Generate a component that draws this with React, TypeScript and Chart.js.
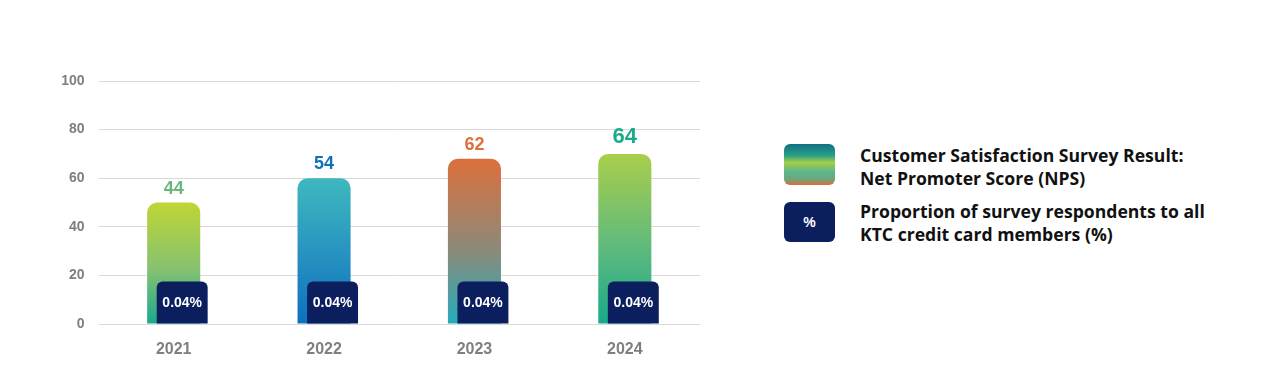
import React, { useEffect, useRef } from "react";
import { Chart, registerables } from "chart.js";

Chart.register(...registerables);

const categories = ["2021", "2022", "2023", "2024"];
const npsBarValues = [50, 60, 68, 70];
const npsLabels = ["44", "54", "62", "64"];
const npsLabelColors = ["#6ab77b", "#0f72b9", "#e0703a", "#1baa8b"];
const npsLabelSizes = [18, 18, 18, 22];
const gradTop = ["#bfd634", "#3eb9be", "#dc6f3b", "#a9ce4b"];
const gradMid = ["#86c271", "#2690c1", "#8c8a7a", "#5fba7d"];
const gradBottom = ["#1aa98d", "#0a72bd", "#25acba", "#18aa89"];
const pctBarValues = [17.5, 17.5, 17.5, 17.5];
const pctLabels = ["0.04%", "0.04%", "0.04%", "0.04%"];
const yTicks = [0, 20, 40, 60, 80, 100];

const NAVY = "#0b1f5e";
const BOX_SHIFT = 8.5;

const shiftPlugin = {
  id: "shiftPct",
  afterDatasetsUpdate(chart: any) {
    const meta = chart.getDatasetMeta(1);
    meta.data.forEach((el: any) => {
      el.x += BOX_SHIFT;
    });
  },
};

const labelPlugin = {
  id: "valueLabels",
  afterDatasetsDraw(chart: any) {
    const ctx = chart.ctx;
    const m0 = chart.getDatasetMeta(0);
    const m1 = chart.getDatasetMeta(1);
    ctx.save();
    m0.data.forEach((el: any, i: number) => {
      const size = npsLabelSizes[i];
      ctx.font = `bold ${size}px "Liberation Sans", Arial, sans-serif`;
      ctx.fillStyle = npsLabelColors[i];
      ctx.textAlign = "center";
      ctx.textBaseline = "alphabetic";
      ctx.fillText(npsLabels[i], el.x, el.y - size * 0.5);
    });
    m1.data.forEach((el: any, i: number) => {
      ctx.font = `bold 14px "Liberation Sans", Arial, sans-serif`;
      ctx.fillStyle = "#ffffff";
      ctx.textAlign = "center";
      ctx.textBaseline = "middle";
      ctx.fillText(pctLabels[i], el.x, (el.y + el.base) / 2 + 1);
    });
    ctx.restore();
  },
};

export default function App() {
  const ref = useRef<HTMLCanvasElement>(null);
  useEffect(() => {
    if (!ref.current) return;
    const chart = new Chart(ref.current, {
      type: "bar",
      data: {
        labels: categories,
        datasets: [
          {
            label: "NPS",
            data: npsBarValues,
            order: 1,
            grouped: false,
            barPercentage: 1,
            categoryPercentage: 0.353,
            borderRadius: { topLeft: 10, topRight: 10, bottomLeft: 0, bottomRight: 0 },
            borderSkipped: false,
            backgroundColor: (c: any) => {
              const ch = c.chart;
              const area = ch.chartArea;
              const i = c.dataIndex;
              if (!area || i === undefined) return gradTop[0];
              const yScale = ch.scales.y;
              const top = yScale.getPixelForValue(npsBarValues[i]);
              const bottom = yScale.getPixelForValue(0);
              const g = ch.ctx.createLinearGradient(0, top, 0, bottom);
              g.addColorStop(0, gradTop[i]);
              g.addColorStop(0.55, gradMid[i]);
              g.addColorStop(1, gradBottom[i]);
              return g;
            },
          } as any,
          {
            label: "%",
            data: pctBarValues,
            order: 0,
            grouped: false,
            barPercentage: 0.96,
            categoryPercentage: 0.353,
            borderRadius: { topLeft: 6, topRight: 6, bottomLeft: 0, bottomRight: 0 },
            borderSkipped: false,
            backgroundColor: NAVY,
          } as any,
        ],
      },
      options: {
        animation: false,
        responsive: false,
        maintainAspectRatio: false,
        layout: { padding: { left: 0, right: 60, top: 81, bottom: 0 } },
        plugins: { legend: { display: false }, tooltip: { enabled: false } },
        scales: {
          x: {
            grid: { display: false },
            border: { display: false },
            ticks: {
              color: "#7f7f7f",
              font: { family: '"Liberation Sans", Arial, sans-serif', size: 16, weight: "bold" },
              padding: 8,
            },
            afterFit: (s: any) => {
              s.height = 50;
            },
          },
          y: {
            min: 0,
            max: 100,
            afterBuildTicks: (s: any) => {
              s.ticks = yTicks.map((v) => ({ value: v }));
            },
            grid: { color: "#d9d9d9", lineWidth: 1, drawTicks: false },
            border: { display: false },
            ticks: {
              color: "#7f7f7f",
              font: { family: '"Liberation Sans", Arial, sans-serif', size: 14, weight: "bold" },
              padding: 14,
            },
            afterFit: (s: any) => {
              s.width = 98.5;
            },
          },
        },
      },
      plugins: [shiftPlugin, labelPlugin],
    });
    return () => chart.destroy();
  }, []);

  const legendText: React.CSSProperties = {
    position: "absolute",
    left: 860,
    fontFamily: '"Open Sans", sans-serif',
    fontWeight: 700,
    fontSize: 17.6,
    lineHeight: "23px",
    color: "#111111",
    whiteSpace: "nowrap",
  };

  return (
    <div style={{ position: "fixed", left: 0, top: 0, width: 1276, height: 374, background: "#ffffff" }}>
      <canvas ref={ref} width={760} height={374} style={{ position: "absolute", left: 0, top: 0 }} />
      <div
        style={{
          position: "absolute",
          left: 784,
          top: 144,
          width: 51,
          height: 41,
          borderRadius: 6,
          background:
            "linear-gradient(to bottom, #0f6f82 0%, #2a9f88 28%, #a6ce48 45%, #5cb68a 68%, #6aa883 85%, #dc6d37 100%)",
        }}
      />
      <div
        style={{
          position: "absolute",
          left: 784,
          top: 202,
          width: 51,
          height: 40,
          borderRadius: 6,
          background: NAVY,
          color: "#ffffff",
          fontFamily: '"Liberation Sans", Arial, sans-serif',
          fontWeight: 700,
          fontSize: 14,
          display: "flex",
          alignItems: "center",
          justifyContent: "center",
        }}
      >
        %
      </div>
      <div style={{ ...legendText, top: 144 }}>
        Customer Satisfaction Survey Result:
        <br />
        Net Promoter Score (NPS)
      </div>
      <div style={{ ...legendText, top: 200 }}>
        Proportion of survey respondents to all
        <br />
        KTC credit card members (%)
      </div>
    </div>
  );
}
